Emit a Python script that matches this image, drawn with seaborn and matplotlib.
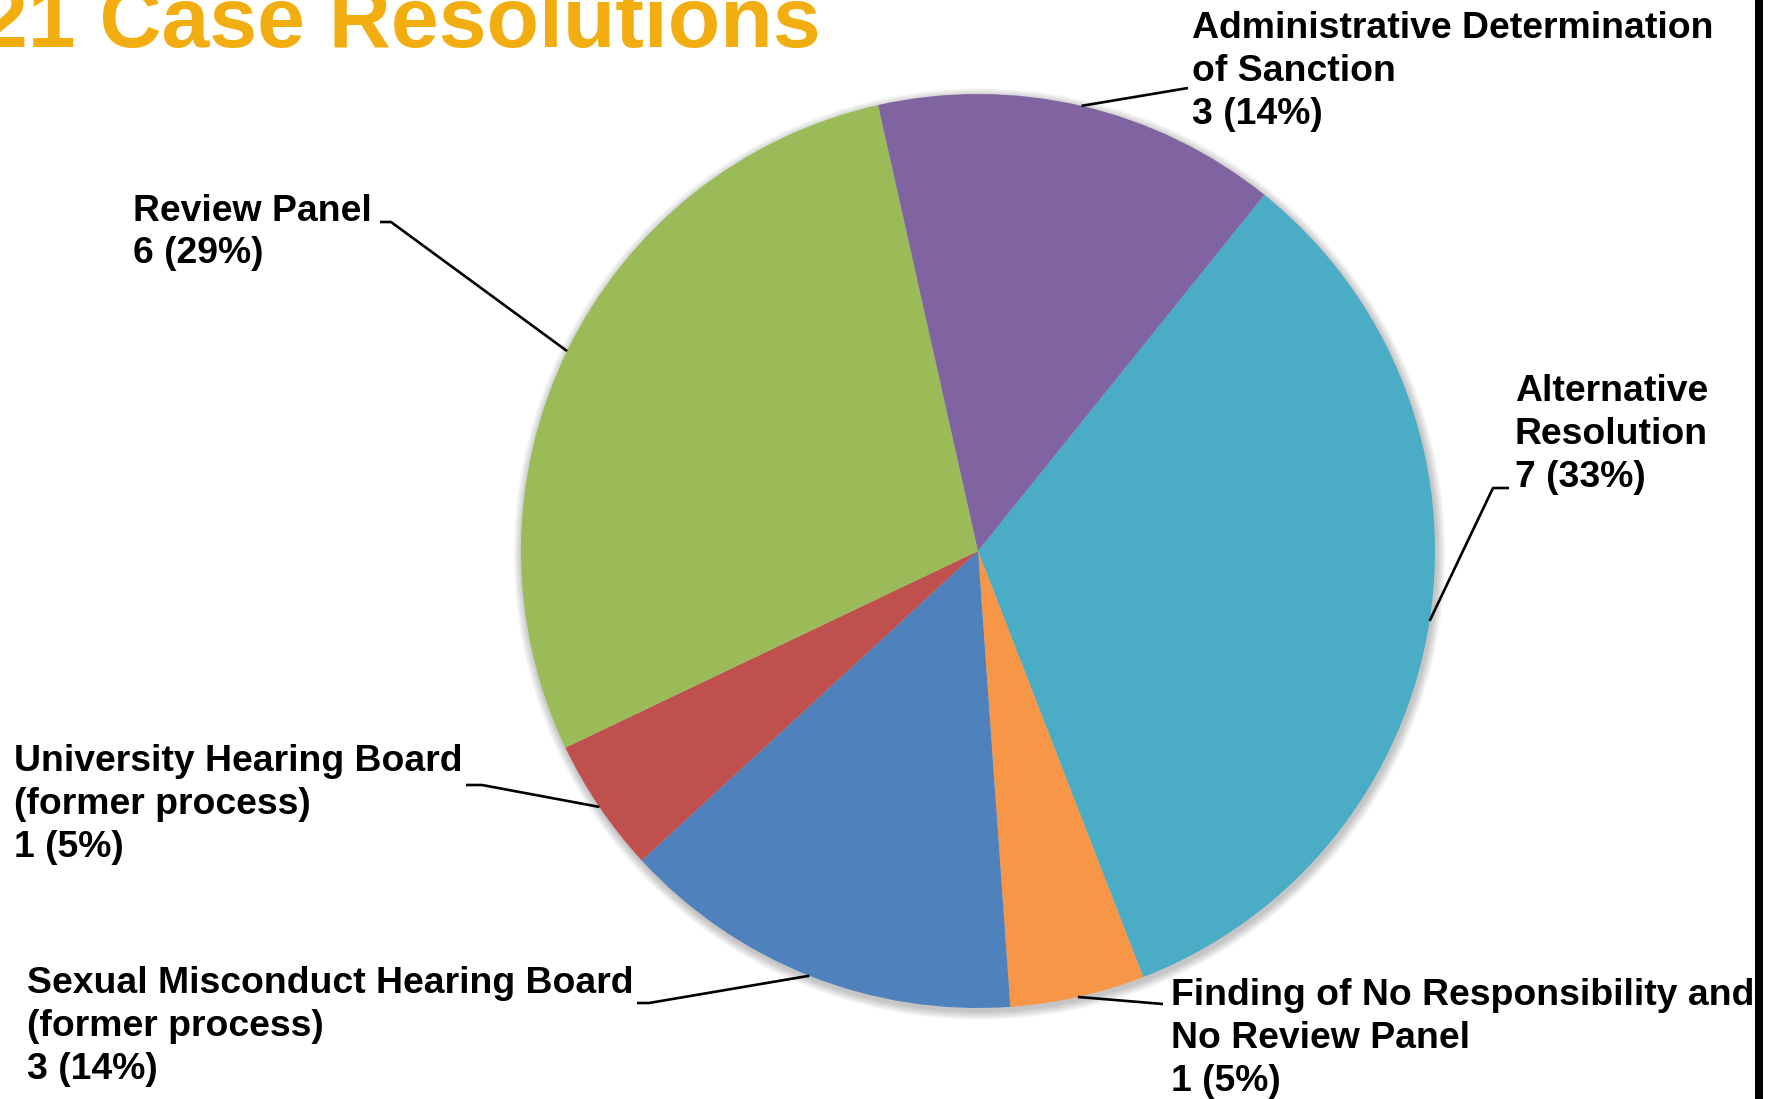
import numpy as np
import matplotlib
matplotlib.use("Agg")
import matplotlib.pyplot as plt
from matplotlib.patches import Circle, Rectangle
import seaborn as sns

# ---- data -------------------------------------------------------------
categories = [
    "Alternative\nResolution",
    "Finding of No Responsibility and\nNo Review Panel",
    "Sexual Misconduct Hearing Board\n(former process)",
    "University Hearing Board\n(former process)",
    "Review Panel",
    "Administrative Determination\nof Sanction",
]
counts = [7, 1, 3, 1, 6, 3]
percent_labels = ["33%", "5%", "14%", "5%", "29%", "14%"]
colors = ["#4BACC6", "#F79646", "#4F81BD", "#C0504D", "#9BBB59", "#8064A2"]
title_text = "21 Case Resolutions"

# ---- figure (drawing units = pixels, y measured from the top) ---------
sns.set_theme(style="white")
plt.rcParams["font.family"] = ["Liberation Sans", "DejaVu Sans"]

W, H = 1771, 1099
fig = plt.figure(figsize=(W / 100, H / 100), dpi=100)
ax = fig.add_axes([0, 0, 1, 1])
ax.set_xlim(0, W)
ax.set_ylim(0, H)
ax.set_aspect("equal")
ax.axis("off")


def Y(y_from_top):
    return H - y_from_top


cx, cy, radius = 978, Y(551), 457
start = 51.2

# soft drop shadow around the pie
for k in range(1, 11):
    ax.add_patch(Circle((cx + 1.5, cy - 3), radius + k * 0.9,
                        color="black", alpha=0.022, lw=0, zorder=0))

wedges, _ = ax.pie(counts, colors=colors, startangle=start, counterclock=False,
                   center=(cx, cy), radius=radius, frame=True,
                   wedgeprops=dict(linewidth=0, zorder=2))
ax.set_xlim(0, W)
ax.set_ylim(0, H)
ax.axis("off")

# label text anchors and leader elbows (pixels from the top-left)
label_pos = [(1515, 434.5), (1171, 1038.5), (27, 1026.5), (14, 804.5),
             (133, 232.5), (1192, 71.5)]
leader_pts = [
    [(1493, 488), (1509, 488)],
    [(1163, 1004)],
    [(649, 1003), (637, 1003)],
    [(482, 785), (466, 785)],
    [(391, 222), (380, 222)],
    [(1188, 88)],
]

for w, name, n, pct, (tx, ty), pts in zip(wedges, categories, counts,
                                          percent_labels, label_pos, leader_pts):
    mid = np.deg2rad((w.theta1 + w.theta2) / 2)
    ex, ey = cx + radius * np.cos(mid), cy + radius * np.sin(mid)
    xs = [ex] + [p[0] for p in pts]
    ys = [ey] + [Y(p[1]) for p in pts]
    ax.plot(xs, ys, color="black", lw=1.9, solid_capstyle="butt", zorder=3)
    ax.text(tx, Y(ty), f"{name}\n{n} ({pct})", ha="left", va="center",
            fontsize=26.9, fontweight="bold", color="black",
            linespacing=1.28, zorder=4)

# title, running off the top-left edge
ax.text(-20, Y(47), title_text, ha="left", va="baseline", fontsize=61.8,
        fontweight="bold", color="#F2AE10", zorder=4)

# dark rule down the right-hand edge
fig.patches.append(Rectangle((1755 / W, 0), 8 / W, 1, transform=fig.transFigure,
                             facecolor="black", edgecolor="none", zorder=5))

fig.savefig("out.png", dpi=100, facecolor="white")
